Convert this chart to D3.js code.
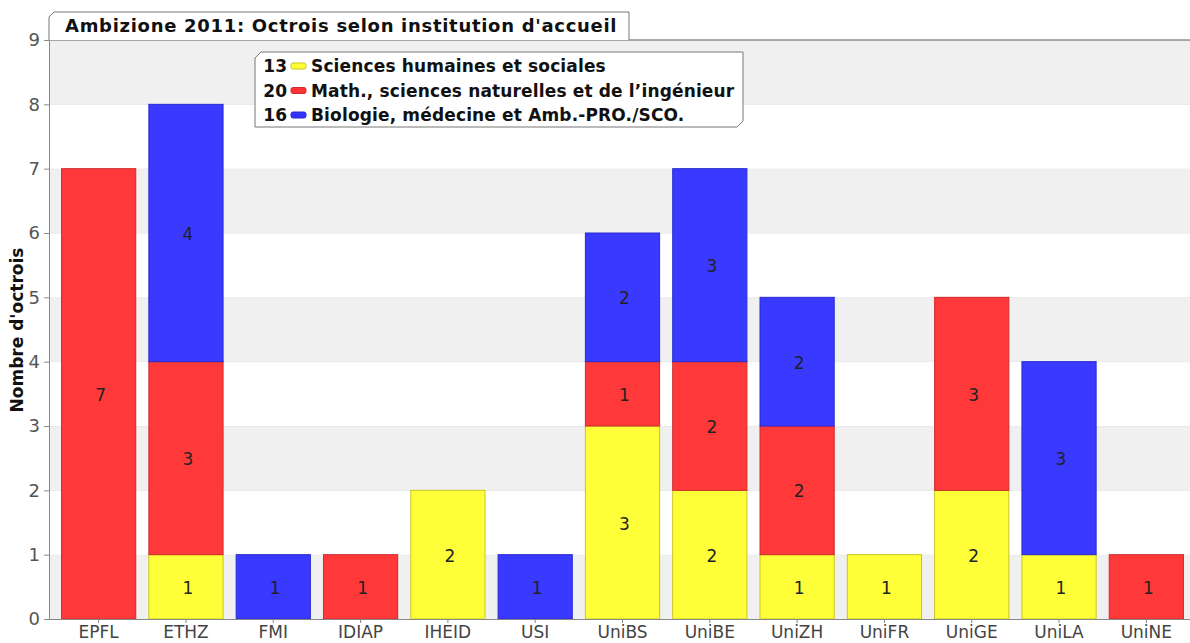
<!DOCTYPE html>
<html>
<head>
<meta charset="utf-8">
<script src="https://cdn.jsdelivr.net/npm/d3@7"></script>
<style>
  body { margin: 0; background: #fff; }
  svg { font-family: "DejaVu Sans", Verdana, sans-serif; }
</style>
</head>
<body>
<script>
// data
var institutions = ["EPFL", "ETHZ", "FMI", "IDIAP", "IHEID", "USI", "UniBS", "UniBE", "UniZH", "UniFR", "UniGE", "UniLA", "UniNE"];
var shs  = [0, 1, 0, 0, 2, 0, 3, 2, 1, 1, 2, 1, 0];
var mint = [7, 3, 0, 1, 0, 0, 1, 2, 2, 0, 3, 0, 1];
var bio  = [0, 4, 1, 0, 0, 1, 2, 3, 2, 0, 0, 3, 0];
var seriesNames = ["Sciences humaines et sociales", "Math., sciences naturelles et de l\u2019ing\u00e9nieur", "Biologie, m\u00e9decine et Amb.-PRO./SCO."];
var seriesKeys = ["shs", "mint", "bio"];
var yTicks = [0, 1, 2, 3, 4, 5, 6, 7, 8, 9];
var title = "Ambizione 2011: Octrois selon institution d'accueil";
var yTitle = "Nombre d'octrois";

var colors = { shs: "#ffff33", mint: "#ff3333", bio: "#3333ff" };
var strokes = { shs: "#c8c820", mint: "#d02a2a", bio: "#2a2ad0" };

var width = 1190, height = 643;
var plot = { left: 49, right: 1190, top: 40, bottom: 619 };

var svg = d3.select("body").append("svg")
    .attr("width", width)
    .attr("height", height);

var table = institutions.map(function(d, i) {
    return { inst: d, shs: shs[i], mint: mint[i], bio: bio[i] };
});

var x = d3.scaleBand()
    .domain(institutions)
    .range([55, plot.right])
    .paddingInner(0.15)
    .paddingOuter(0.075);

var y = d3.scaleLinear()
    .domain([0, 9])
    .range([plot.bottom, plot.top]);

// alternating bands
var bands = svg.append("g");
yTicks.slice(0, -1).forEach(function(t) {
    bands.append("rect")
        .attr("x", plot.left)
        .attr("y", y(t + 1))
        .attr("width", plot.right - plot.left)
        .attr("height", y(t) - y(t + 1))
        .attr("fill", t % 2 === 0 ? "#f0f0f0" : "#ffffff");
    bands.append("line")
        .attr("x1", plot.left).attr("x2", plot.right)
        .attr("y1", y(t + 1)).attr("y2", y(t + 1))
        .attr("stroke", "#e2e2e2");
});

// top frame line
svg.append("line")
    .attr("x1", plot.left).attr("x2", plot.right)
    .attr("y1", plot.top).attr("y2", plot.top)
    .attr("stroke", "#666");

// stacked bars
var stack = d3.stack().keys(seriesKeys);
var layers = stack(table);

var layer = svg.selectAll(".layer")
    .data(layers)
    .enter().append("g")
    .attr("class", "layer");

layer.selectAll("rect")
    .data(function(d) { return d.map(function(p) { p.key = d.key; return p; }); })
    .enter().filter(function(d) { return d[1] > d[0]; })
    .append("rect")
    .attr("x", function(d) { return x(d.data.inst); })
    .attr("y", function(d) { return y(d[1]); })
    .attr("width", x.bandwidth())
    .attr("height", function(d) { return y(d[0]) - y(d[1]); })
    .attr("fill", function(d) { return colors[d.key]; })
    .attr("fill-opacity", 0.97)
    .attr("stroke", function(d) { return strokes[d.key]; })
    .attr("stroke-width", 1);

layer.selectAll("text")
    .data(function(d) { return d; })
    .enter().filter(function(d) { return d[1] > d[0]; })
    .append("text")
    .attr("x", function(d) { return x(d.data.inst) + x.bandwidth() / 2 + 2; })
    .attr("y", function(d) { return (y(d[0]) + y(d[1])) / 2 + 7; })
    .attr("text-anchor", "middle")
    .attr("font-size", 17)
    .attr("fill", "#222")
    .text(function(d) { return d[1] - d[0]; });

// axes
var yAxis = svg.append("g")
    .attr("transform", "translate(" + plot.left + ",0)")
    .call(d3.axisLeft(y).tickValues(yTicks).tickSize(5).tickPadding(4).tickFormat(d3.format("d")));
yAxis.select(".domain").attr("stroke", "#888");
yAxis.selectAll(".tick line").attr("stroke", "#888");
yAxis.selectAll(".tick text")
    .attr("font-size", 18)
    .attr("fill", "#555")
    .attr("font-family", "\"DejaVu Sans\", Verdana, sans-serif");

var xAxis = svg.append("g")
    .attr("transform", "translate(0," + plot.bottom + ")")
    .call(d3.axisBottom(x).tickSize(4).tickSizeOuter(0).tickPadding(3));
xAxis.select(".domain").attr("stroke", "#888").attr("d", "M" + plot.left + ",0.5H" + plot.right);
xAxis.selectAll(".tick line").attr("stroke", "#888");
xAxis.selectAll(".tick text")
    .attr("font-size", 17)
    .attr("fill", "#444")
    .attr("font-family", "\"DejaVu Sans\", Verdana, sans-serif");

// y title
svg.append("text")
    .attr("transform", "translate(23,330) rotate(-90)")
    .attr("text-anchor", "middle")
    .attr("font-size", 17)
    .attr("font-weight", "bold")
    .attr("fill", "#111")
    .text(yTitle);

// title tab
svg.append("path")
    .attr("d", "M49,40 V17 L54,12 H629 V40")
    .attr("fill", "#fff")
    .attr("stroke", "#777");
svg.append("text")
    .attr("x", 65)
    .attr("y", 32)
    .attr("font-size", 18)
    .attr("font-weight", "bold")
    .attr("letter-spacing", 0.7)
    .attr("fill", "#111")
    .text(title);

// legend
var totals = [d3.sum(shs), d3.sum(mint), d3.sum(bio)];
var legend = svg.append("g");
legend.append("path")
    .attr("d", "M255,127 V58 L261,52 H743 V121 L737,127 Z")
    .attr("fill", "#fff")
    .attr("stroke", "#777");
seriesKeys.forEach(function(k, i) {
    var by = 72 + i * 24.5;
    legend.append("text")
        .attr("x", 287)
        .attr("y", by)
        .attr("text-anchor", "end")
        .attr("font-size", 17)
        .attr("font-weight", "bold")
        .attr("fill", "#111")
        .text(totals[i]);
    legend.append("rect")
        .attr("x", 291)
        .attr("y", by - 9)
        .attr("width", 15)
        .attr("height", 6)
        .attr("rx", 2)
        .attr("fill", colors[k])
        .attr("stroke", strokes[k]);
    legend.append("text")
        .attr("x", 311)
        .attr("y", by)
        .attr("font-size", 17)
        .attr("font-weight", "bold")
        .attr("letter-spacing", 0.15)
        .attr("fill", "#111")
        .text(seriesNames[i]);
});
</script>
</body>
</html>
